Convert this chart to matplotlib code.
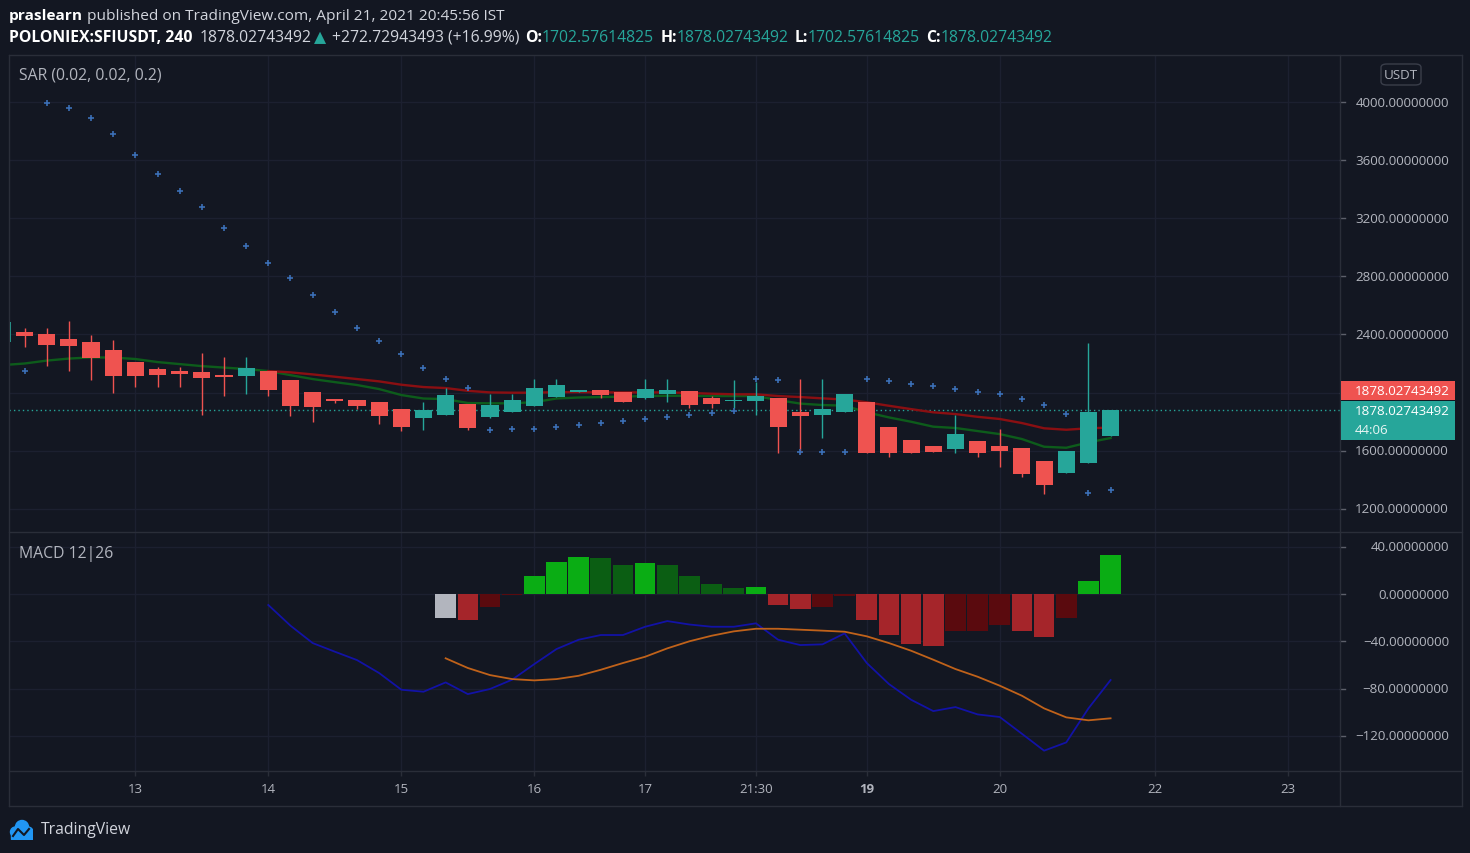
import numpy as np
import matplotlib
matplotlib.use("Agg")
import matplotlib.pyplot as plt
from matplotlib.patches import Rectangle, FancyBboxPatch, Circle
from matplotlib.transforms import blended_transform_factory as blend

plt.rcParams["font.family"] = ["Open Sans", "DejaVu Sans"]

# ---- data (4h candles, index 0 = 13 Apr 00:00) ----
idx = list(range(-6, 45))
opens = [2348, 2416, 2403, 2368, 2348, 2293, 2210, 2162, 2148, 2141, 2120, 2114,
         2148, 2086, 2003, 1955, 1948, 1934, 1886, 1824, 1845, 1921, 1831, 1866,
         1907, 1969, 2003, 2017, 2003, 1962, 1990, 2010, 1962, 1941, 1941, 1962,
         1866, 1845, 1866, 1934, 1762, 1673, 1632, 1611, 1666, 1632, 1618, 1528,
         1446, 1515, 1702.57614825]
highs = [2485, 2444, 2444, 2492, 2396, 2361, 2210, 2175, 2175, 2272, 2244, 2244,
         2148, 2086, 2003, 1955, 1948, 1934, 1886, 1934, 2031, 1921, 1990, 1990,
         2093, 2093, 2017, 2017, 2003, 2093, 2093, 2010, 1976, 2086, 2072, 1962,
         2093, 2093, 1990, 1934, 1762, 1673, 1632, 1845, 1666, 1749, 1618, 1528,
         1597, 2341, 1878.02743492]
lows = [2348, 2313, 2182, 2148, 2086, 1996, 2038, 2038, 2038, 1845, 1976, 1990,
        1976, 1838, 1797, 1928, 1886, 1783, 1735, 1742, 1845, 1742, 1824, 1866,
        1907, 1969, 2003, 1962, 1934, 1955, 1934, 1893, 1893, 1893, 1845, 1583,
        1583, 1687, 1866, 1583, 1556, 1583, 1590, 1583, 1556, 1487, 1418, 1301,
        1446, 1515, 1702.57614825]
closes = [2485, 2389, 2327, 2320, 2237, 2114, 2114, 2120, 2127, 2100, 2107, 2169,
          2017, 1907, 1900, 1941, 1907, 1838, 1762, 1879, 1983, 1755, 1914, 1948,
          2031, 2052, 2017, 1983, 1934, 2024, 2017, 1914, 1921, 1948, 1976, 1762,
          1838, 1886, 1990, 1583, 1583, 1583, 1590, 1714, 1583, 1597, 1439, 1363,
          1597, 1866, 1878.02743492]

sar = [np.nan, 2146, 3991, 3957, 3888, 3778, 3633, 3502, 3385, 3275, 3130, 3006,
       2889, 2786, 2669, 2552, 2442, 2352, 2263, 2167, 2091, 2029, 1740, 1747,
       1747, 1760, 1774, 1788, 1802, 1815, 1829, 1843, 1857, 1871, 2091, 2084,
       1588, 1588, 1588, 2091, 2077, 2056, 2042, 2022, 2001, 1988, 1953, 1912,
       1850, 1306, 1327]

ma_fast = [2189, 2200, 2220, 2234, 2242, 2241, 2231, 2210, 2196, 2182, 2172, 2162,
           2148, 2120, 2093, 2072, 2052, 2024, 1983, 1959, 1955, 1928, 1926, 1926,
           1934, 1959, 1966, 1969, 1972, 1976, 1978, 1978, 1976, 1976, 1976, 1948,
           1924, 1914, 1910, 1864, 1829, 1799, 1765, 1756, 1735, 1714, 1680, 1627,
           1620, 1657, 1687]
ma_slow = [np.nan] * 12 + [2148, 2139, 2125, 2109, 2093, 2077, 2054, 2038, 2031,
           2012, 2001, 1999, 1999, 2003, 2003, 2001, 2001, 2001, 2001, 1997, 1992,
           1988, 1988, 1976, 1969, 1960, 1952, 1933, 1909, 1886, 1864, 1852, 1833,
           1818, 1790, 1754, 1744, 1754, 1759]

macd_idx = list(range(6, 45))
macd = [-9.3, -26.8, -41.5, -48.8, -55.9, -66.9, -81.0, -82.7, -74.8, -84.7,
        -80.4, -72.5, -59.3, -46.6, -38.7, -34.7, -34.7, -27.7, -22.9, -25.8,
        -27.7, -27.7, -24.8, -38.7, -43.2, -42.6, -33.3, -58.4, -76.2, -89.5,
        -99.1, -95.7, -101.9, -104.1, -118.3, -132.6, -125.6, -96.8, -72.8]
sig_idx = list(range(14, 45))
signal = [-54.4, -62.6, -68.6, -72.0, -73.1, -72.0, -69.2, -64.1, -58.4, -53.1,
          -46.0, -40.0, -35.3, -31.6, -29.4, -29.4, -30.2, -31.0, -31.9, -35.8,
          -41.5, -48.0, -55.6, -63.5, -70.0, -77.6, -86.1, -96.8, -104.4, -106.9,
          -105.2]
hist = [-20.6, -22.3, -11.1, -0.6, 15.1, 27.1, 31.4, 30.6, 24.6, 26.3, 24.6,
        15.1, 8.3, 4.9, 5.7, -9.4, -12.9, -11.1, -1.7, -22.3, -35.1, -42.0,
        -43.7, -31.7, -30.9, -26.6, -31.7, -36.0, -20.6, 10.9, 33.1]

time_ticks = [-6, 0, 6, 12, 18, 23, 28, 33, 39, 46, 52]
time_labels = ["12", "13", "14", "15", "16", "17", "21:30", "19", "20", "22", "23"]
price_ticks = [1200, 1600, 2000, 2400, 2800, 3200, 3600, 4000]
macd_ticks = [40, 0, -40, -80, -120]

# ---- style ----
W, H = 1470, 854
BG = "#131722"
GRID = "#1c2030"
BORDER = "#2a2e39"
TXT = "#b2b5be"
WHITE = "#d1d4dc"
UP = "#26a69a"
DOWN = "#ef5350"

fig = plt.figure(figsize=(W / 100, H / 100), dpi=100, facecolor=BG)


def rect_px(x0, y0, x1, y1):
    return [x0 / W, 1 - y1 / H, (x1 - x0) / W, (y1 - y0) / H]


def fx(x):
    return x / W


def fy(y):
    return 1 - y / H


ax = fig.add_axes(rect_px(9, 56, 1340, 533))
ax2 = fig.add_axes(rect_px(9, 533, 1340, 772))
axt = fig.add_axes(rect_px(9, 772, 1340, 807))
xlim = (-5.70, 54.35)
for a in (ax, ax2, axt):
    a.set_facecolor(BG)
    a.set_xlim(*xlim)
    a.set_xticks([])
    a.set_yticks([])
    for s in a.spines.values():
        s.set_visible(False)
ax.set_ylim(1040, 4324)
ax2.set_ylim(-149.8, 52.5)
axt.set_ylim(0, 1)

# grids
for a in (ax, ax2):
    a.vlines(time_ticks, *a.get_ylim(), color=GRID, lw=1, zorder=0)
ax.hlines(price_ticks, *xlim, color=GRID, lw=1, zorder=0)
ax2.hlines(macd_ticks, *xlim, color=GRID, lw=1, zorder=0)

# ---- candles ----
o = np.array(opens)
c = np.array(closes)
up = c >= o
col = [UP if u else DOWN for u in up]
ax.vlines(idx, lows, highs, colors=col, lw=1, zorder=3)
body = np.maximum(np.abs(c - o), 8)
ax.bar(idx, body, bottom=np.minimum(o, c), width=0.77, color=col, zorder=4)

ax.plot(idx, ma_fast, color="#0d5c1b", lw=1.7, zorder=2)
ax.plot(idx, ma_slow, color="#8a0f12", lw=1.7, zorder=2)
ax.plot(idx, sar, ls="none", marker="+", ms=4, mew=1.2, color="#3b6fb6", zorder=5)
ax.axhline(closes[-1], color=UP, ls=(0, (1, 2.2)), lw=1, zorder=1)

# ---- MACD ----
hcol = []
for k, v in enumerate(hist):
    if k == 0:
        hcol.append("#b2b5be")
    elif v >= 0:
        hcol.append("#0aad14" if v >= hist[k - 1] else "#0b5e13")
    else:
        hcol.append("#a5252a" if v < hist[k - 1] else "#5a0a0e")
ax2.bar(sig_idx, hist, width=0.93, color=hcol, zorder=2)
ax2.plot(macd_idx, macd, color="#1212a6", lw=1.3, zorder=3)
ax2.plot(sig_idx, signal, color="#c0621a", lw=1.3, zorder=3)

# ---- time axis ----
tt = blend(axt.transData, axt.transAxes)
axt.vlines(time_ticks, 0.86, 1.0, color=BORDER, lw=1, transform=tt)
for t, lbl in zip(time_ticks, time_labels):
    axt.text(t, 0.5, lbl, transform=tt, ha="center", va="center", fontsize=9.5,
             color=TXT, fontweight="bold" if lbl == "19" else "normal", clip_on=True)

# ---- right price scales ----
for a, ticks in ((ax, price_ticks), (ax2, macd_ticks)):
    tr = blend(fig.transFigure, a.transData)
    for v in ticks:
        s = "{:.8f}".format(v).replace("-", "\u2212")
        a.text(fx(1449), v, s, transform=tr, ha="right", va="center", fontsize=9.6,
               color=TXT, clip_on=False)
        a.plot([fx(1340), fx(1345)], [v, v], transform=tr, color="#5d606b", lw=1,
               clip_on=False)

# ---- borders ----
def hline(y, x0, x1):
    fig.add_artist(plt.Line2D([fx(x0), fx(x1)], [fy(y), fy(y)], color=BORDER, lw=1))


def vline(x, y0, y1):
    fig.add_artist(plt.Line2D([fx(x), fx(x)], [fy(y0), fy(y1)], color=BORDER, lw=1))


for y in (56, 533, 772, 807):
    hline(y, 9, 1462)
for x in (9, 1340, 1462):
    vline(x, 56, 807)

# ---- last price labels ----
fig.canvas.draw()
yp = H - ax.transData.transform((0, closes[-1]))[1]


def box(x0, y0, x1, y1, color):
    fig.patches.append(Rectangle((fx(x0), fy(y1)), (x1 - x0) / W, (y1 - y0) / H,
                                 transform=fig.transFigure, facecolor=color,
                                 edgecolor="none", zorder=5))


box(1341, yp - 29.6, 1455, yp - 10.6, DOWN)
box(1341, yp - 9.6, 1455, yp + 29.4, UP)
fig.text(fx(1355), fy(yp - 20), "1878.02743492", color="white", fontsize=9.6,
         va="center", ha="left", zorder=6)
fig.text(fx(1355), fy(yp + 0.5), "1878.02743492", color="white", fontsize=9.6,
         va="center", ha="left", zorder=6)
fig.text(fx(1355), fy(yp + 19.5), "44:06", color="#e8f5f3", fontsize=9.6,
         va="center", ha="left", zorder=6)

# USDT badge
fig.patches.append(FancyBboxPatch((fx(1381), fy(86)), 40 / W, 21 / H,
                                  boxstyle="round,pad=0,rounding_size=0.004",
                                  transform=fig.transFigure, facecolor=BG,
                                  edgecolor="#3a3e4a", lw=1, zorder=5))
fig.text(fx(1401), fy(75.5), "USDT", color=TXT, fontsize=9.6, ha="center",
         va="center", zorder=6)

# ---- pane titles ----
fig.text(fx(19), fy(76), "SAR (0.02, 0.02, 0.2)", color=TXT, fontsize=11.3, va="center")
fig.text(fx(19), fy(554), "MACD 12|26", color=TXT, fontsize=11.3, va="center")

# ---- header ----
renderer = fig.canvas.get_renderer()


def runs(x, y, pieces, size=11.1):
    for s, color, weight, gap in pieces:
        x += gap
        t = fig.text(fx(x), fy(y), s, color=color, fontweight=weight, fontsize=size,
                     va="center", ha="left")
        x += t.get_window_extent(renderer=renderer).width


runs(9, 16, [("praslearn", "white", "bold", 0),
             ("published on TradingView.com, April 21, 2021 20:45:56 IST", WHITE, "normal", 4)])
runs(9, 38, [("POLONIEX:SFIUSDT, 240", "white", "bold", 0),
             ("1878.02743492", WHITE, "normal", 7),
             ("\u25b2", UP, "normal", 3),
             ("+272.72943493 (+16.99%)", WHITE, "normal", 5),
             ("O:", "white", "bold", 6), ("1702.57614825", UP, "normal", 0),
             ("H:", "white", "bold", 6), ("1878.02743492", UP, "normal", 0),
             ("L:", "white", "bold", 6), ("1702.57614825", UP, "normal", 0),
             ("C:", "white", "bold", 6), ("1878.02743492", UP, "normal", 0)],
     size=11.35)

# ---- TradingView logo ----
lg = fig.add_axes(rect_px(9, 820, 33, 841))
lg.set_xlim(0, 24)
lg.set_ylim(21, 0)
lg.axis("off")
for cx, cy, r in ((6.5, 13, 5), (13, 8, 6.5), (19, 13, 5)):
    lg.add_patch(Circle((cx, cy), r, color="#2196f3"))
lg.add_patch(Rectangle((1.5, 13), 22, 7, color="#2196f3"))
lg.plot([4, 9, 15, 20], [17, 10, 16, 10], color=BG, lw=1.5)
fig.text(fx(41), fy(830), "TradingView", color=WHITE, fontsize=11.3, va="center")

fig.savefig("out.png", dpi=100, facecolor=BG)
